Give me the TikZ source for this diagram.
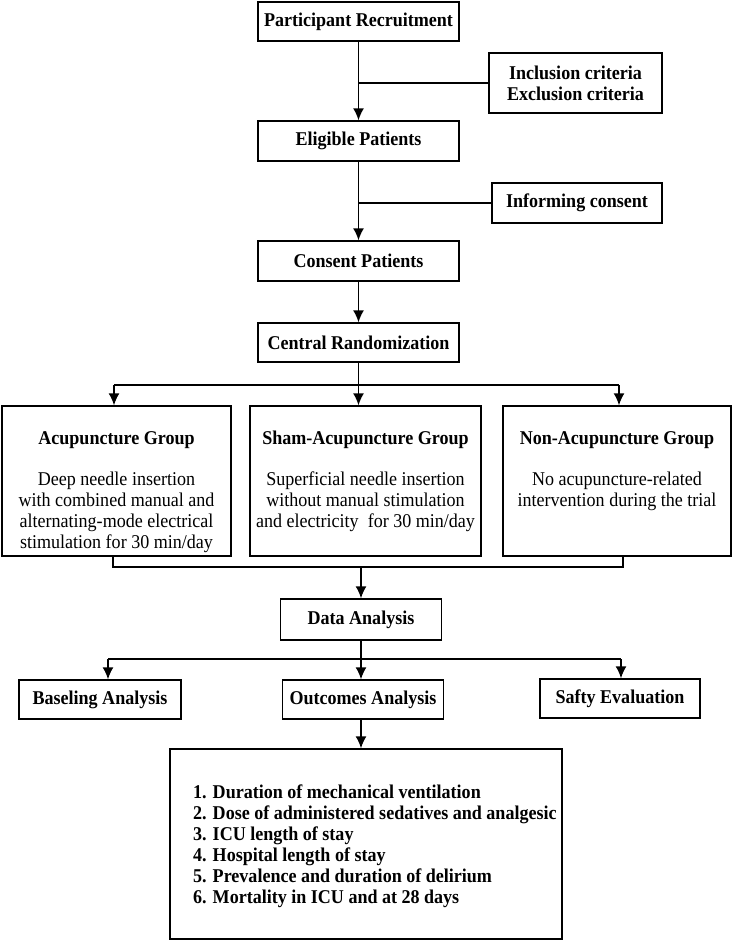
\documentclass[tikz,border=0pt]{standalone}
\usepackage{fontspec}
\setmainfont{Liberation Serif}[FakeStretch=0.925]
\usetikzlibrary{arrows.meta}
\begin{document}
\begin{tikzpicture}[x=1pt,y=-1pt,
 box/.style={draw, line width=1.4pt, inner sep=0pt, font=\fontsize{19.5}{21}\selectfont\bfseries, align=center},
 conn/.style={line width=1.5pt},
 arr/.style={conn, -{Latex[length=12pt,width=11pt]}},
 titletxt/.style={inner sep=0pt, font=\fontsize{19.5}{21}\selectfont\bfseries},
 bodytxt/.style={inner sep=0pt, font=\fontsize{19.5}{21}\selectfont, align=center},
]
\useasboundingbox (0,0) rectangle (732,944);
% top chain
\node[box, minimum width=201pt, minimum height=39pt] (pr) at (358.5,21.5) {Participant Recruitment};
\node[box, minimum width=173pt, minimum height=60pt] (inc) at (575.5,83) {Inclusion criteria\\Exclusion criteria};
\node[box, minimum width=201pt, minimum height=40pt] (el) at (358.5,141) {Eligible Patients};
\node[box, minimum width=170pt, minimum height=40pt] (inf) at (577,203) {Informing consent};
\node[box, minimum width=201pt, minimum height=40pt] (cp) at (358.5,261) {Consent Patients};
\node[box, minimum width=201pt, minimum height=39pt] (cr) at (358.5,342.5) {Central Randomization};
% groups
\node[box, minimum width=229pt, minimum height=150pt] (ag) at (116.5,481) {};
\node[box, minimum width=231pt, minimum height=150pt] (sg) at (365.5,481) {};
\node[box, minimum width=228pt, minimum height=150pt] (ng) at (617,481) {};
\node[titletxt] (agt) at (116.5,440) {Acupuncture Group};
\node[titletxt] (sgt) at (365.5,440) {Sham-Acupuncture Group};
\node[titletxt] (ngt) at (617,440) {Non-Acupuncture Group};
\node[bodytxt, anchor=base] (agb) at (116.5,548) {Deep needle insertion\\with combined manual and\\alternating-mode electrical\\stimulation for 30 min/day};
\node[bodytxt, anchor=base] (sgb) at (365.5,527) {Superficial needle insertion\\without manual stimulation\\and electricity~ for 30 min/day};
\node[bodytxt, anchor=base] (ngb) at (617,506) {No acupuncture-related\\intervention during the trial};
% analysis
\node[box, minimum width=161pt, minimum height=41pt] (da) at (361,619.5) {Data Analysis};
\node[box, minimum width=162pt, minimum height=39pt] (ba) at (100,699.5) {Baseling Analysis};
\node[box, minimum width=161pt, minimum height=39pt] (oa) at (363,699.5) {Outcomes Analysis};
\node[box, minimum width=160pt, minimum height=39pt] (se) at (620,698.5) {Safty Evaluation};
\node[box, minimum width=392pt, minimum height=190pt] (ol) at (366,844) {};
\node[inner sep=0pt, font=\fontsize{19.5}{21}\selectfont\bfseries, align=left, anchor=base west] (olt) at (193,903) {1. Duration of mechanical ventilation\\2. Dose of administered sedatives and analgesic\\3. ICU length of stay\\4. Hospital length of stay\\5. Prevalence and duration of delirium\\6. Mortality in ICU and at 28 days};
% connectors
\draw[arr] (pr) -- (el);
\draw[conn] (inc.west) -- (inc.west -| pr.south);
\draw[arr] (el) -- (cp);
\draw[conn] (inf.west) -- (inf.west -| el.south);
\draw[arr] (cp) -- (cr);
\coordinate (b1) at (358.5,385);
\coordinate (b1l) at (114,385);
\coordinate (b1r) at (619,385);
\draw[conn] (cr.south) -- (b1);
\draw[conn] (b1l) -- (b1r);
\draw[arr] (b1l) -- (b1l |- ag.north);
\draw[arr] (b1) -- (b1 |- sg.north);
\draw[arr] (b1r) -- (b1r |- ng.north);
\coordinate (m1) at (113,567);
\coordinate (m2) at (623,567);
\coordinate (mc) at (361,567);
\draw[conn] (m1 |- ag.south) -- (m1) -- (m2) -- (m2 |- ng.south);
\draw[arr] (mc) -- (mc |- da.north);
\coordinate (b2) at (361,659);
\coordinate (b2l) at (108,659);
\coordinate (b2r) at (621,659);
\draw[conn] (da.south) -- (b2);
\draw[conn] (b2l) -- (b2r);
\draw[arr] (b2l) -- (b2l |- ba.north);
\draw[arr] (b2) -- (b2 |- oa.north);
\draw[arr] (b2r) -- (b2r |- se.north);
\draw[arr] (b2 |- oa.south) -- (b2 |- ol.north);
\end{tikzpicture}
\end{document}
